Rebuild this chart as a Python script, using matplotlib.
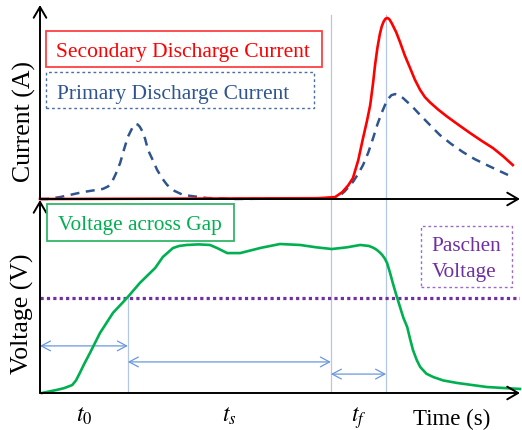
import matplotlib
matplotlib.use("Agg")
import matplotlib.pyplot as plt
from matplotlib.patches import Rectangle

# ---- data (arbitrary units: time 0..10, current/voltage normalised 0..1) ----
time_secondary = [0.0, 3.0, 5.8, 6.15, 6.3, 6.42, 6.52, 6.63, 6.73, 6.81, 6.88, 6.94,
                  6.98, 7.03, 7.08, 7.12, 7.16, 7.2, 7.24, 7.28, 7.33, 7.42, 7.5, 7.6,
                  7.71, 7.81, 7.92, 8.02, 8.13, 8.3, 8.48, 8.72, 8.96, 9.2, 9.44, 9.65, 9.85]
current_secondary = [0.0, 0.002, 0.004, 0.01, 0.036, 0.07, 0.108, 0.2, 0.314, 0.4, 0.485, 0.6,
                     0.69, 0.78, 0.85, 0.89, 0.915, 0.93, 0.933, 0.926, 0.905, 0.86, 0.809, 0.74,
                     0.675, 0.615, 0.562, 0.525, 0.497, 0.46, 0.425, 0.382, 0.34, 0.3, 0.262, 0.22, 0.175]

time_primary = [0.0, 0.15, 0.42, 0.9, 1.31, 1.42, 1.5, 1.58, 1.67, 1.75, 1.83, 1.92, 1.97, 2.0,
                2.04, 2.08, 2.13, 2.19, 2.25, 2.35, 2.44, 2.55, 2.65, 2.8, 2.98, 3.48, 4.02, 6.19,
                6.35, 6.52, 6.63, 6.73, 6.84, 6.94, 7.03, 7.125, 7.23, 7.32, 7.4, 7.48, 7.56,
                7.75, 7.92, 8.13, 8.33, 8.56, 8.81, 9.06, 9.31, 9.54, 9.75]
current_primary = [0.0, 0.0, 0.01, 0.036, 0.052, 0.065, 0.088, 0.13, 0.186, 0.255, 0.32, 0.365, 0.383, 0.387,
                   0.383, 0.372, 0.35, 0.31, 0.253, 0.2, 0.15, 0.105, 0.072, 0.042, 0.021, 0.005, 0.0, 0.005,
                   0.04, 0.088, 0.13, 0.175, 0.24, 0.314, 0.385, 0.448, 0.509, 0.535, 0.541, 0.535, 0.521,
                   0.478, 0.433, 0.38, 0.33, 0.285, 0.242, 0.205, 0.175, 0.148, 0.124]

time_gap = [0.04, 0.35, 0.5, 0.67, 0.75, 0.83, 0.92, 1.04, 1.25, 1.52, 1.81, 2.08, 2.4, 2.56,
            2.77, 2.9, 3.06, 3.3, 3.54, 3.69, 3.9, 4.17, 4.6, 5.0, 5.42, 5.75, 6.08, 6.4, 6.67,
            6.85, 6.95, 7.02, 7.08, 7.13, 7.18, 7.23, 7.29, 7.35, 7.42, 7.5, 7.57, 7.65, 7.71,
            7.77, 7.85, 7.92, 8.05, 8.19, 8.4, 8.69, 9.31, 10.0]
voltage_gap = [0.0, 0.016, 0.025, 0.041, 0.065, 0.104, 0.15, 0.207, 0.311, 0.415, 0.492, 0.57, 0.648, 0.705,
               0.751, 0.762, 0.767, 0.77, 0.767, 0.751, 0.725, 0.725, 0.752, 0.772, 0.767, 0.755, 0.746, 0.755,
               0.767, 0.762, 0.752, 0.741, 0.728, 0.715, 0.698, 0.674, 0.625, 0.57, 0.51, 0.446, 0.39, 0.342,
               0.28, 0.223, 0.17, 0.135, 0.1, 0.083, 0.065, 0.052, 0.031, 0.021]

paschen_voltage = 0.494

# instants: breakdown voltage reached, end of statistical delay, end of formative delay
t_breakdown = 1.83
t_stat_end = 6.06
t_form_end = 7.21
interval_labels = [r"$t_0$", r"$t_s$", r"$t_f$"]

# ---- styling ----
W, H = 522, 430
SERIF = ["Liberation Serif", "DejaVu Serif"]
plt.rcParams["font.family"] = SERIF
plt.rcParams["mathtext.fontset"] = "stix"

RED = "#ff0000"
BLUE = "#2f5590"
GREEN = "#00b050"
PURPLE = "#7030a0"
GUIDE = "#b4c7e7"
ARROW = "#6a98dc"

fig = plt.figure(figsize=(W / 100, H / 100), dpi=100)
fig.patch.set_facecolor("white")


def fig_xy(x, y):
    return x / W, 1 - y / H


ax_i = fig.add_axes([40 / W, 1 - 199 / H, 480 / W, 194 / H])
ax_v = fig.add_axes([40 / W, 1 - 393 / H, 480 / W, 193 / H])

for ax in (ax_i, ax_v):
    ax.set_xlim(0, 10)
    ax.set_ylim(0, 1)
    ax.set_xticks([])
    ax.set_yticks([])
    for s in ax.spines.values():
        s.set_visible(False)
    ax.patch.set_alpha(0)
    axis_arrow = dict(arrowstyle="->,head_length=0.6,head_width=0.35", color="black",
                      lw=1.4, shrinkA=0, shrinkB=0, mutation_scale=13)
    ax.annotate("", xy=(0, 1), xytext=(0, 0), xycoords="axes fraction",
                arrowprops=axis_arrow, annotation_clip=False, zorder=5)
    ax.annotate("", xy=(1, 0), xytext=(0, 0), xycoords="axes fraction",
                arrowprops=axis_arrow, annotation_clip=False, zorder=5)

# ---- current panel ----
for t in (t_stat_end, t_form_end):
    ax_i.plot([t, t], [0, 0.948], color=GUIDE, lw=0.9, zorder=1)
ax_i.plot(time_primary, current_primary, color=BLUE, lw=1.8, dashes=(3.6, 2.6),
          clip_on=False, zorder=3)
ax_i.plot(time_secondary, current_secondary, color=RED, lw=1.9, clip_on=False, zorder=4,
          solid_joinstyle="round")

# ---- voltage panel ----
ax_v.plot([t_breakdown, t_breakdown], [0, paschen_voltage], color=GUIDE, lw=0.9, zorder=1)
for t in (t_stat_end, t_form_end):
    ax_v.plot([t, t], [0, 1.0], color=GUIDE, lw=0.9, zorder=1)
ax_v.plot([0, 10], [paschen_voltage, paschen_voltage], color=PURPLE, lw=2.3,
          dashes=(1, 1), dash_capstyle="butt", zorder=2)
ax_v.plot(time_gap, voltage_gap, color=GREEN, lw=1.9, clip_on=False, zorder=3,
          solid_joinstyle="round")

interval_arrow = dict(arrowstyle="<->,head_length=0.6,head_width=0.32", color=ARROW,
                      lw=0.9, shrinkA=0, shrinkB=0, mutation_scale=11)
spans = [(0, t_breakdown, 0.244), (t_breakdown, t_stat_end, 0.161), (t_stat_end, t_form_end, 0.098)]
for (a, b, y) in spans:
    ax_v.annotate("", xy=(b, y), xytext=(a, y), arrowprops=interval_arrow, zorder=2)

for (a, b, _), lab in zip(spans, interval_labels):
    x_mid = (a + b) / 2
    fx = (40 + x_mid * 48) / W
    fig.text(fx, 1 - 422 / H, lab, ha="center", va="baseline", fontsize=17, color="black")

fig.text(413 / W, 1 - 425 / H, "Time (s)", ha="left", va="baseline", fontsize=16.5, color="black")

# ---- axis titles ----
fig.text(*fig_xy(24, 121), "Current (A)", rotation=90, ha="center", va="center", fontsize=18.5)
fig.text(*fig_xy(22, 314), "Voltage (V)", rotation=90, ha="center", va="center", fontsize=18.5)


# ---- legend boxes ----
def box(x0, y0, x1, y1, color, lw=1.2, ls="-"):
    fig.add_artist(Rectangle((x0 / W, 1 - y1 / H), (x1 - x0) / W, (y1 - y0) / H,
                             transform=fig.transFigure, fill=False, edgecolor=color,
                             lw=lw, linestyle=ls, zorder=6))


box(46, 31, 322, 67, "#ff4040", lw=1.3)
fig.text(56 / W, 1 - 57 / H, "Secondary Discharge Current", ha="left", va="baseline",
         fontsize=15.5, color=RED)

box(46, 72, 314, 108, "#4a6fa5", lw=1.0, ls=(0, (2, 2)))
fig.text(57 / W, 1 - 99 / H, "Primary Discharge Current", ha="left", va="baseline",
         fontsize=15.5, color=BLUE)

box(47, 204, 234, 241, "#30b868", lw=1.3)
fig.text(58 / W, 1 - 230 / H, "Voltage across Gap", ha="left", va="baseline",
         fontsize=15.3, color=GREEN)

box(421, 226, 512, 287, "#9a6cc8", lw=1.0, ls=(0, (2, 2)))
fig.text(466 / W, 1 - 251 / H, "Paschen", ha="center", va="baseline", fontsize=15.3, color=PURPLE)
fig.text(464 / W, 1 - 277 / H, "Voltage", ha="center", va="baseline", fontsize=15.3, color=PURPLE)

fig.savefig("out.png", dpi=100)
